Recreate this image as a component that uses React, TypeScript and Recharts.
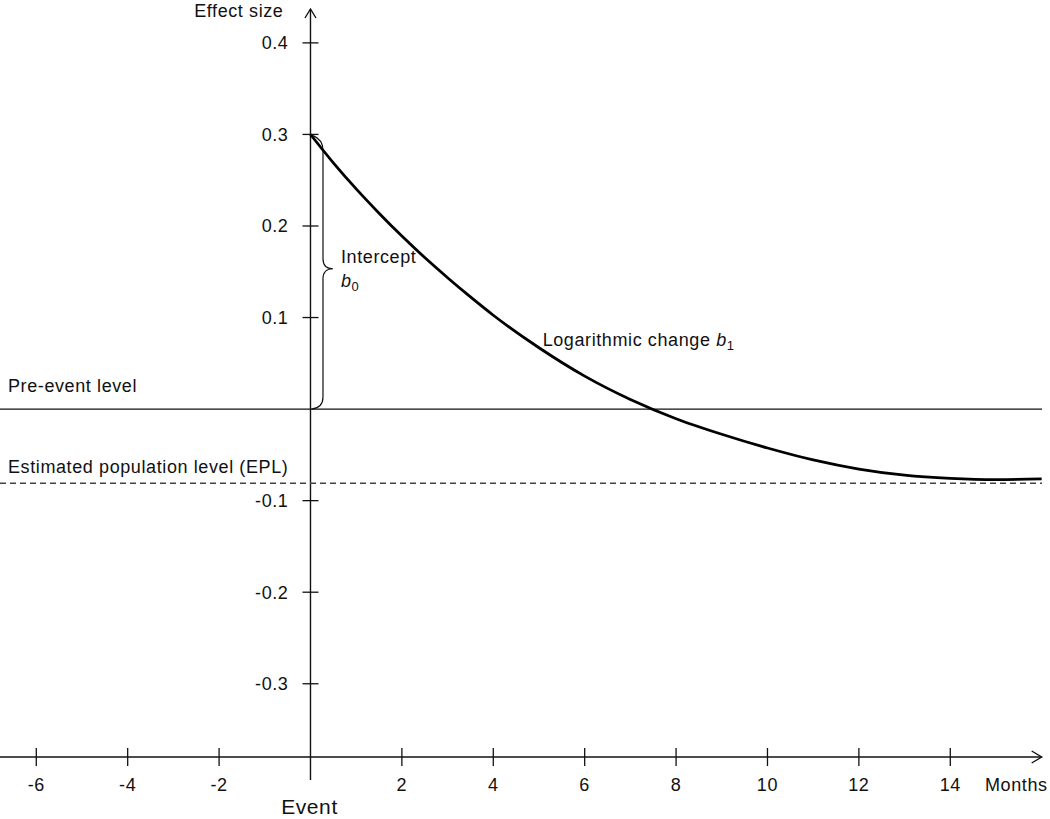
import React from 'react';
import {
  ComposedChart,
  Line,
  XAxis,
  YAxis,
  ReferenceLine,
  ReferenceDot,
} from 'recharts';

// months after the event and the fitted effect size
const months = [0, 0.5, 1, 1.5, 2, 2.5, 3, 3.5, 4, 5, 6, 7, 8, 9, 10, 11, 12, 13, 14, 15, 16];
const effect = [
  0.3, 0.269, 0.2405, 0.214, 0.189, 0.1655, 0.1435, 0.1225, 0.1025, 0.067, 0.036, 0.0105,
  -0.0105, -0.0275, -0.0425, -0.0555, -0.0655, -0.0722, -0.0757, -0.0771, -0.0762,
];

const xTicks = [-6, -4, -2, 2, 4, 6, 8, 10, 12, 14];
const yTicks = [0.4, 0.3, 0.2, 0.1, -0.1, -0.2, -0.3];

const preEventLevel = 0;
const eplLevel = -0.081;
const interceptValue = 0.3;

const X_MIN = -6.794;
const X_MAX = 16.007;
const Y_MIN = -0.38;
const Y_MAX = 0.437;
const Y_AXIS_BOTTOM = -0.405;
const X_ARROW_END = 16.0;

const FONT = '"Liberation Sans", Arial, Helvetica, sans-serif';
const INK = '#111';
const FS = 18;
const LS = 0.6;

const data = months.map((m, i) => ({ month: m, effect: effect[i] }));

const XTick = (props: any) => {
  const { x, y, payload } = props;
  return (
    <g>
      <line x1={x} x2={x} y1={y - 9} y2={y + 9} stroke={INK} strokeWidth={1.3} />
      <text x={x} y={y + 34} textAnchor="middle" fontSize={FS} letterSpacing={LS} fontFamily={FONT} fill={INK}>
        {payload.value}
      </text>
    </g>
  );
};

const yTickShape = (label: string) => (p: any) => (
  <g>
    <line x1={p.cx - 8} x2={p.cx + 8} y1={p.cy} y2={p.cy} stroke={INK} strokeWidth={1.3} />
    <text x={p.cx - 22} y={p.cy + 6.5} textAnchor="end" fontSize={FS} letterSpacing={LS} fontFamily={FONT} fill={INK}>
      {label}
    </text>
  </g>
);

const rightArrow = (p: any) => (
  <g>
    <line x1={p.x1} y1={p.y1} x2={p.x2} y2={p.y2} stroke={INK} strokeWidth={1.4} />
    <path d={`M${p.x2 - 10},${p.y2 - 6} L${p.x2},${p.y2} L${p.x2 - 10},${p.y2 + 6}`} fill="none" stroke={INK} strokeWidth={1.4} />
  </g>
);

const upArrow = (p: any) => (
  <g>
    <line x1={p.x1} y1={p.y1} x2={p.x2} y2={p.y2} stroke={INK} strokeWidth={1.4} />
    <path d={`M${p.x2 - 5.5},${p.y2 + 9} L${p.x2},${p.y2} L${p.x2 + 5.5},${p.y2 + 9}`} fill="none" stroke={INK} strokeWidth={1.4} />
  </g>
);

// curly brace right of the y axis, spanning 0 .. intercept
const brace = (p: any) => {
  const x = p.x1;
  const yB = Math.max(p.y1, p.y2);
  const yT = Math.min(p.y1, p.y2);
  const ym = (yB + yT) / 2 - 3;
  const bx = x + 12.5;
  const d = [
    `M${x + 2},${yT + 1}`,
    `Q${bx},${yT + 5} ${bx},${yT + 16}`,
    `L${bx},${ym - 10}`,
    `Q${bx},${ym} ${bx + 10},${ym}`,
    `Q${bx},${ym} ${bx},${ym + 10}`,
    `L${bx},${yB - 12}`,
    `Q${bx},${yB - 1} ${x + 1},${yB}`,
  ].join(' ');
  return <path d={d} fill="none" stroke={INK} strokeWidth={1.2} />;
};

const note = (
  content: React.ReactNode,
  dx: number,
  dy: number,
  anchor: 'start' | 'middle' | 'end' = 'start',
  size = FS,
) => (p: any) => (
  <text
    x={p.cx + dx}
    y={p.cy + dy}
    textAnchor={anchor}
    fontSize={size}
    letterSpacing={LS}
    fontFamily={FONT}
    fill={INK}
  >
    {content}
  </text>
);

export default function App() {
  return (
    <div style={{ position: 'absolute', left: 0, top: 0, background: '#fff' }}>
      <ComposedChart
        width={1050}
        height={819}
        data={data}
        margin={{ top: 9, right: 8, left: 0, bottom: 0 }}
      >
        <XAxis
          dataKey="month"
          type="number"
          domain={[X_MIN, X_MAX]}
          allowDataOverflow
          ticks={xTicks}
          interval={0}
          axisLine={false}
          tickLine={false}
          tickSize={0}
          tickMargin={0}
          height={62}
          tick={(props: any) => <XTick {...props} />}
        />
        <YAxis hide type="number" domain={[Y_MIN, Y_MAX]} allowDataOverflow width={0} />

        {/* axes */}
        <ReferenceLine
          segment={[{ x: X_MIN, y: Y_MIN }, { x: X_ARROW_END, y: Y_MIN }]}
          ifOverflow="visible"
          shape={rightArrow}
        />
        <ReferenceLine
          segment={[{ x: 0, y: Y_AXIS_BOTTOM }, { x: 0, y: Y_MAX }]}
          ifOverflow="visible"
          shape={upArrow}
        />
        {yTicks.map((v) => (
          <ReferenceDot key={v} x={0} y={v} r={0} ifOverflow="visible" shape={yTickShape(String(v))} />
        ))}

        {/* reference levels */}
        <ReferenceLine y={preEventLevel} stroke={INK} strokeWidth={1.3} ifOverflow="visible" />
        <ReferenceLine y={eplLevel} stroke="#444" strokeWidth={1.4} strokeDasharray="6 4" ifOverflow="visible" />
        <ReferenceLine
          segment={[{ x: 0, y: preEventLevel }, { x: 0, y: interceptValue }]}
          ifOverflow="visible"
          shape={brace}
        />

        <Line
          dataKey="effect"
          type="monotone"
          stroke="#000"
          strokeWidth={2.8}
          dot={false}
          isAnimationActive={false}
        />

        {/* annotations */}
        <ReferenceDot x={0} y={Y_MAX} r={0} ifOverflow="visible" shape={note('Effect size', -27, 8, 'end')} />
        <ReferenceDot x={0} y={Y_MIN} r={0} ifOverflow="visible" shape={note('Event', -1, 57, 'middle', 21)} />
        <ReferenceDot x={14.76} y={Y_MIN} r={0} ifOverflow="visible" shape={note('Months', 0, 34)} />
        <ReferenceDot x={X_MIN} y={preEventLevel} r={0} ifOverflow="visible" shape={note('Pre-event level', 8, -17)} />
        <ReferenceDot
          x={X_MIN}
          y={eplLevel}
          r={0}
          ifOverflow="visible"
          shape={note('Estimated population level (EPL)', 8, -10)}
        />
        <ReferenceDot
          x={0}
          y={interceptValue / 2}
          r={0}
          ifOverflow="visible"
          shape={(p: any) => (
            <text x={p.cx + 30.5} y={p.cy - 9} fontSize={FS} letterSpacing={LS} fontFamily={FONT} fill={INK}>
              <tspan x={p.cx + 30.5}>Intercept</tspan>
              <tspan x={p.cx + 30.5} dy={24} fontStyle="italic">b</tspan>
              <tspan fontSize={13} dy={4}>0</tspan>
            </text>
          )}
        />
        <ReferenceDot
          x={5.08}
          y={0.0684}
          r={0}
          ifOverflow="visible"
          shape={(p: any) => (
            <text x={p.cx} y={p.cy} fontSize={FS} letterSpacing={LS} fontFamily={FONT} fill={INK}>
              Logarithmic change <tspan fontStyle="italic">b</tspan>
              <tspan fontSize={13} dy={4}>1</tspan>
            </text>
          )}
        />
      </ComposedChart>
    </div>
  );
}
